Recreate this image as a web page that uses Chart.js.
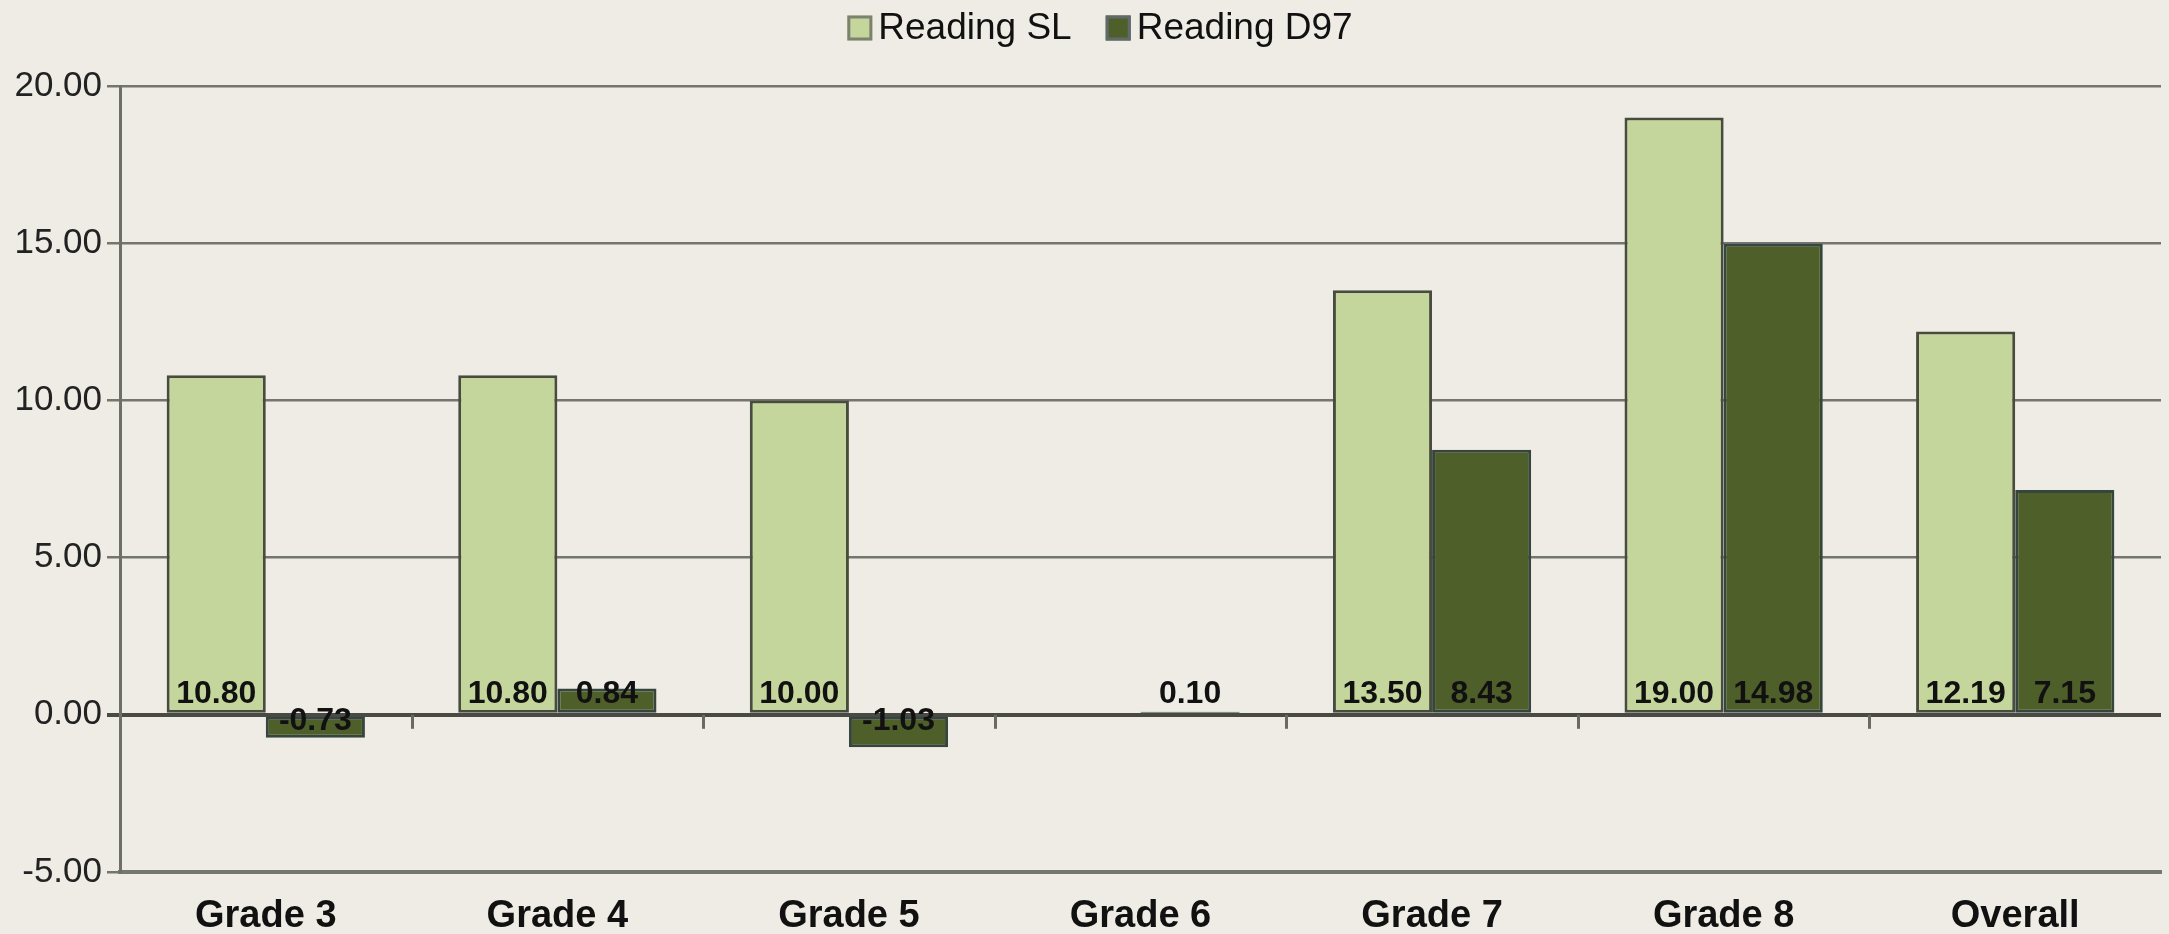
<!DOCTYPE html>
<html>
<head>
<meta charset="utf-8">
<script src="https://cdn.jsdelivr.net/npm/chart.js@4/dist/chart.umd.min.js"></script>
<style>
  html, body { margin: 0; padding: 0; background: #eeece5; }
  canvas { display: block; }
</style>
</head>
<body>
<canvas id="chart" width="2169" height="934"></canvas>
<script>
// ===== Data =====
const categories = ['Grade 3', 'Grade 4', 'Grade 5', 'Grade 6', 'Grade 7', 'Grade 8', 'Overall'];
const seriesNames = ['Reading SL', 'Reading D97'];
const readingSL = [10.80, 10.80, 10.00, null, 13.50, 19.00, 12.19];
const readingD97 = [-0.73, 0.84, -1.03, 0.10, 8.43, 14.98, 7.15];
const yMin = -5;
const yMax = 20;
const yStep = 5;

const FONT = '"Liberation Sans", Arial, sans-serif';

// ===== Legend drawn at the top, Excel style =====
const topLegend = {
  id: 'topLegend',
  afterDraw(chart) {
    const ctx = chart.ctx;
    const box = 25;
    const gap = 6;
    const itemGap = 34;
    ctx.save();
    ctx.font = '37px ' + FONT;
    const items = chart.data.datasets.map(ds => ({
      label: ds.label,
      color: ds.backgroundColor,
      border: ds.legendBorder,
      w: box + gap + ctx.measureText(ds.label).width
    }));
    const total = items.reduce((s, it) => s + it.w, 0) + itemGap * (items.length - 1);
    let x = 1100 - total / 2;
    const cy = 28;
    items.forEach(it => {
      ctx.fillStyle = it.color;
      ctx.fillRect(x, cy - box / 2, box, box);
      ctx.lineWidth = 3;
      ctx.strokeStyle = it.border;
      ctx.strokeRect(x + 1.5, cy - box / 2 + 1.5, box - 3, box - 3);
      ctx.fillStyle = '#111';
      ctx.textBaseline = 'middle';
      ctx.textAlign = 'left';
      ctx.fillText(it.label, x + box + gap, cy + 1);
      x += it.w + itemGap;
    });
    ctx.restore();
  }
};

// ===== Value labels at the inside base of each bar =====
const baseLabels = {
  id: 'baseLabels',
  afterDatasetsDraw(chart) {
    const ctx = chart.ctx;
    ctx.save();
    ctx.font = 'bold 32px ' + FONT;
    ctx.fillStyle = '#111';
    ctx.textAlign = 'center';
    chart.data.datasets.forEach((ds, di) => {
      const meta = chart.getDatasetMeta(di);
      meta.data.forEach((bar, i) => {
        const v = ds.data[i];
        if (v === null || v === undefined) return;
        const txt = v.toFixed(2);
        if (v >= 0) {
          ctx.textBaseline = 'bottom';
          ctx.fillText(txt, bar.x, bar.base - 3);
        } else {
          ctx.textBaseline = 'middle';
          ctx.fillText(txt, bar.x, bar.base + 4);
        }
      });
    });
    ctx.restore();
  }
};

// ===== Small category ticks hanging below the zero line =====
const zeroTicks = {
  id: 'zeroTicks',
  afterDraw(chart) {
    const ctx = chart.ctx;
    const xs = chart.scales.x;
    const y0 = chart.scales.y.getPixelForValue(0);
    ctx.save();
    ctx.strokeStyle = '#6a6a64';
    ctx.lineWidth = 3;
    for (let i = 1; i < categories.length; i++) {
      const x = Math.round(xs.getPixelForValue(i - 0.5)) + 0.5;
      ctx.beginPath();
      ctx.moveTo(x, y0);
      ctx.lineTo(x, y0 + 14);
      ctx.stroke();
    }
    ctx.restore();
  }
};

new Chart(document.getElementById('chart'), {
  type: 'bar',
  data: {
    labels: categories,
    datasets: [{
      label: seriesNames[0],
      data: readingSL,
      backgroundColor: '#c4d69b',
      borderColor: '#474c3c',
      legendBorder: '#7d8270',
      borderWidth: 3,
      borderSkipped: false,
      categoryPercentage: 0.68,
      barPercentage: 1.0,
    }, {
      label: seriesNames[1],
      data: readingD97,
      backgroundColor: '#4f5f2a',
      borderColor: '#36463f',
      legendBorder: '#5f6a6a',
      borderWidth: 3,
      borderSkipped: false,
      categoryPercentage: 0.68,
      barPercentage: 1.0,
    }],
  },
  options: {
    responsive: false,
    animation: false,
    layout: { autoPadding: false, padding: { top: 86, left: 0, right: 8, bottom: 0 } },
    plugins: {
      legend: { display: false },
      tooltip: { enabled: false },
    },
    scales: {
      x: {
        afterFit: s => { s.height = 62; },
        grid: { display: true, drawOnChartArea: false, drawTicks: false },
        border: { display: true, color: '#777772', width: 4 },
        ticks: {
          padding: 26,
          color: '#111',
          font: { family: FONT, size: 38, weight: 'bold', lineHeight: 1.0 },
        },
      },
      y: {
        min: yMin,
        max: yMax,
        afterFit: s => { s.width = 120; },
        ticks: {
          stepSize: yStep,
          padding: 5,
          color: '#222',
          font: { family: FONT, size: 35 },
          callback: v => v.toFixed(2),
        },
        grid: {
          color: c => (c.tick && c.tick.value === 0 ? '#4a4a44' : '#75756f'),
          lineWidth: c => (c.tick && c.tick.value === 0 ? 4 : 2.5),
          tickLength: 13,
          drawTicks: true,
        },
        border: { display: true, color: '#6f6f6a', width: 3 },
      },
    },
  },
  plugins: [topLegend, baseLabels, zeroTicks],
});
</script>
</body>
</html>
